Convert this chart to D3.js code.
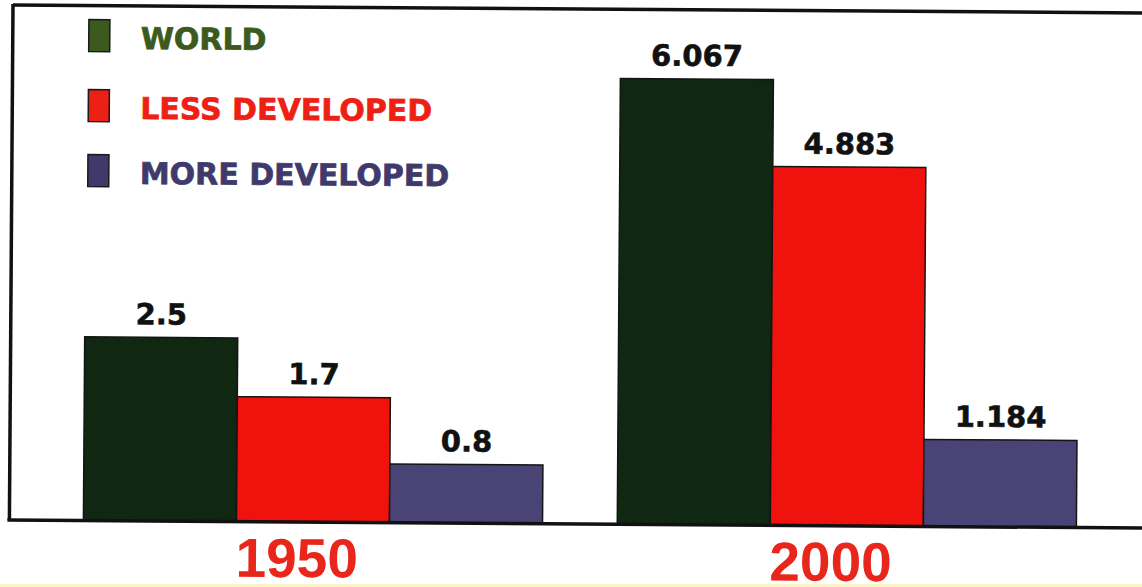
<!DOCTYPE html>
<html>
<head>
<meta charset="utf-8">
<script src="https://cdn.jsdelivr.net/npm/d3@7"></script>
<style>
  html, body { margin: 0; padding: 0; background: #ffffff; }
  svg { display: block; }
</style>
</head>
<body>
<svg id="chart" width="1142" height="587"></svg>
<script>
// ---- data ----
const years = ["1950", "2000"];
const seriesNames = ["WORLD", "LESS DEVELOPED", "MORE DEVELOPED"];
const worldValues = [2.5, 6.067];
const lessDevelopedValues = [1.7, 4.883];
const moreDevelopedValues = [0.8, 1.184];
const barColors = ["#102712", "#f0130d", "#4a4375"];
const legendColors = ["#3c5a1d", "#ee1f15", "#3f3a6b"];

const seriesValues = [worldValues, lessDevelopedValues, moreDevelopedValues];
const rows = [];
years.forEach((yr, i) => {
  seriesNames.forEach((s, j) => rows.push({ year: yr, series: s, value: seriesValues[j][i], idx: j }));
});

const W = 1142, H = 587;
const svg = d3.select("#chart");

svg.append("rect").attr("x", 0).attr("y", 0).attr("width", W).attr("height", H).attr("fill", "#ffffff");
svg.append("rect").attr("x", 0).attr("y", 584).attr("width", W).attr("height", 3).attr("fill", "#fbf3c4");

const g = svg.append("g").attr("transform", "rotate(0.4, 571, 293)");

const baseline = 524;
const x0 = d3.scaleBand().domain(years).range([85, 1078]).paddingInner(0.14).paddingOuter(0);
const x1 = d3.scaleBand().domain(seriesNames).range([0, x0.bandwidth()]).padding(0);
const y = d3.scaleLinear().domain([0, 7]).range([baseline, baseline - 7 * 73.5]);
const color = d3.scaleOrdinal().domain(seriesNames).range(barColors);

// bars
g.append("g").selectAll("rect").data(rows).join("rect")
  .attr("x", d => x0(d.year) + x1(d.series))
  .attr("y", d => y(d.value))
  .attr("width", x1.bandwidth())
  .attr("height", d => y(0) - y(d.value))
  .attr("fill", d => color(d.series))
  .attr("stroke", "#141414")
  .attr("stroke-width", 1.5);

// value labels
g.append("g").selectAll("text").data(rows).join("text")
  .attr("x", d => x0(d.year) + x1(d.series) + x1.bandwidth() / 2)
  .attr("y", d => y(d.value) - 13)
  .attr("text-anchor", "middle")
  .attr("font-family", "'DejaVu Sans', sans-serif")
  .attr("font-weight", "bold")
  .attr("font-size", 29)
  .attr("fill", "#111111")
  .attr("stroke", "#111111")
  .attr("stroke-width", 0.6)
  .text(d => String(d.value));

// frame: left and top lines
g.append("line").attr("x1", 11).attr("y1", 9).attr("x2", W + 10).attr("y2", 9)
  .attr("stroke", "#111111").attr("stroke-width", 3.5);
g.append("line").attr("x1", 11).attr("y1", 8).attr("x2", 11).attr("y2", baseline)
  .attr("stroke", "#111111").attr("stroke-width", 3.5);

// x axis baseline
const xAxis = d3.axisBottom(x0).tickSize(0).tickPadding(0);
const axG = g.append("g").attr("transform", `translate(0,${baseline})`).call(xAxis);
axG.select(".domain").remove();
axG.append("line").attr("x1", 9).attr("x2", W + 10).attr("y1", 0).attr("y2", 0)
  .attr("stroke", "#111111").attr("stroke-width", 3.5);
axG.selectAll(".tick text")
  .attr("x", -16)
  .attr("y", 55)
  .attr("dy", 0)
  .attr("font-family", "'Liberation Sans', Arial, sans-serif")
  .attr("font-weight", "bold")
  .attr("font-size", 55)
  .attr("fill", "#e8261b");

// legend
const legendY = [23, 93, 158];
const legend = g.append("g").selectAll("g").data(seriesNames).join("g")
  .attr("transform", (d, i) => `translate(87,${legendY[i]})`);
legend.append("rect")
  .attr("width", 21).attr("height", 32)
  .attr("fill", (d, i) => legendColors[i])
  .attr("stroke", "#1a1a1a").attr("stroke-width", 1.5);
legend.append("text")
  .attr("x", 52).attr("y", 29)
  .attr("font-family", "'DejaVu Sans', sans-serif")
  .attr("font-weight", "bold")
  .attr("font-size", 30)
  .attr("fill", (d, i) => legendColors[i])
  .attr("stroke", (d, i) => legendColors[i])
  .attr("stroke-width", 0.7)
  .text(d => d);
</script>
</body>
</html>
